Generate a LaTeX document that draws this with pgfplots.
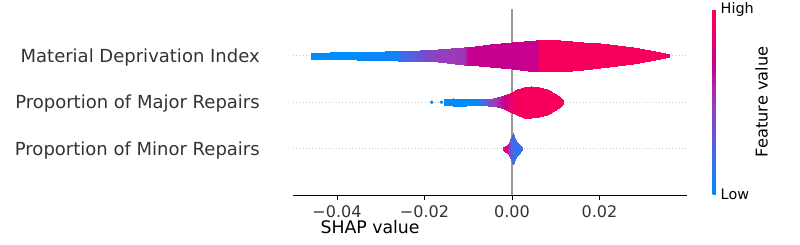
\documentclass[border=0pt]{standalone}
\usepackage{fontspec}
\setmainfont{DejaVu Sans}
\usepackage{pgfplots}
\pgfplotsset{compat=1.18}
\definecolor{txt}{HTML}{333333}
\definecolor{zeroline}{HTML}{999999}
\definecolor{gridc}{HTML}{CCCCCC}
\definecolor{shapblue}{RGB}{0,139,250}
\begin{document}
\begin{tikzpicture}
\path[use as bounding box] (-292.7pt,-48.7pt) rectangle (507.3pt,195.3pt);
\begin{axis}[
  at={(0pt,0pt)}, anchor=south west,
  scale only axis, width=394.6pt, height=186.1pt,
  xmin=-0.05013, xmax=0.04007, ymin=-1, ymax=3,
  axis lines*=left,
  y axis line style={draw=none},
  x axis line style={line width=1pt, black},
  xtick={-0.04,-0.02,0,0.02},
  xticklabels={−0.04,−0.02,0.00,0.02},
  scaled x ticks=false,
  ytick={0,1,2},
  yticklabels={Proportion of Minor Repairs, Proportion of Major Repairs, Material Deprivation Index},
  ytick style={draw=none},
  xtick style={black, line width=0.9pt},
  tick align=outside, major tick length=4.8pt,
  xticklabel style={font=\fontsize{16}{16}\selectfont, text=txt, anchor=base, inner sep=0pt, yshift=-17.6pt},
  yticklabel style={font=\fontsize{18}{18}\selectfont, text=txt, anchor=base east, inner sep=0pt, yshift=-6.5pt, xshift=-28pt},
  ymajorgrids, grid style={gridc, line width=0.6pt, dash pattern=on 0.8pt off 2.5pt},
  xlabel={SHAP value},
  xlabel style={at={(axis description cs:0.196,0)}, anchor=base, yshift=-38pt, font=\fontsize{17.3}{17.3}\selectfont, text=black},
  colormap={shap}{rgb255(0cm)=(0,139,250); rgb255(2cm)=(60,110,235); rgb255(3.5cm)=(112,80,208); rgb255(5cm)=(154,60,184); rgb255(6cm)=(180,30,165); rgb255(7cm)=(198,0,142); rgb255(8.5cm)=(230,0,115); rgb255(10cm)=(255,0,82)},
  point meta min=0, point meta max=1,
  colorbar,
  colorbar style={
    at={(parent axis.south east)}, anchor=south west, xshift=16.7pt, yshift=1pt,
    scale only axis, width=3pt, height=185pt,
    axis line style={draw=none},
    ytick={0,1}, yticklabels={Low,High},
    ytick style={draw=none},
    yticklabel style={font=\fontsize{14.4}{14.4}\selectfont, anchor=west, inner sep=0pt, xshift=5pt, text=black},
    ylabel={Feature value},
    every axis y label/.style={at={(axis description cs:1,0.5)}, rotate=90, anchor=center, yshift=-46pt, font=\fontsize{16.2}{16.2}\selectfont},
  },
]
\addplot[zeroline, line width=1.3pt, forget plot] coordinates {(0,-1) (0,3)};
\addplot[only marks, mark=*, mark size=1.6pt, shapblue, forget plot] coordinates {(-0.01835,1) (-0.01610,1)};

% Material Deprivation Index (row 2): upper edge then lower edge
\addplot[surf, shader=interp, mesh/rows=2, point meta=explicit, forget plot] table[x=x, y=y, meta=c] {
x y c
-0.04594 2.065 0
-0.04160 2.071 0
-0.03543 2.082 0
-0.02903 2.095 0.05
-0.02606 2.106 0.06
-0.02560 2.108 0.18
-0.02103 2.120 0.33
-0.01691 2.141 0.48
-0.01097 2.190 0.52
-0.01006 2.198 0.70
-0.00503 2.252 0.70
0.00000 2.295 0.70
0.00549 2.344 0.71
0.00640 2.344 0.95
0.01097 2.340 0.95
0.01623 2.301 0.95
0.02011 2.265 0.95
0.02400 2.226 0.95
0.02766 2.183 0.95
0.03154 2.118 0.95
0.03611 2.032 0.95
-0.04594 1.935 0
-0.04160 1.929 0
-0.03543 1.918 0
-0.02903 1.905 0.05
-0.02606 1.894 0.06
-0.02560 1.892 0.18
-0.02103 1.880 0.33
-0.01691 1.859 0.48
-0.01097 1.810 0.52
-0.01006 1.802 0.70
-0.00503 1.748 0.70
0.00000 1.705 0.70
0.00549 1.656 0.71
0.00640 1.656 0.95
0.01097 1.660 0.95
0.01623 1.699 0.95
0.02011 1.735 0.95
0.02400 1.774 0.95
0.02766 1.817 0.95
0.03154 1.882 0.95
0.03611 1.968 0.95
};

% Proportion of Major Repairs (row 1)
\addplot[surf, shader=interp, mesh/rows=2, point meta=explicit, forget plot] table[x=x, y=y, meta=c] {
x y c
-0.01554 1.065 0
-0.01349 1.082 0
-0.01051 1.073 0
-0.00800 1.067 0.02
-0.00549 1.077 0.35
-0.00343 1.103 0.55
-0.00183 1.151 0.70
-0.00046 1.209 0.85
0.00114 1.280 0.95
0.00274 1.329 0.95
0.00434 1.344 0.95
0.00617 1.323 0.95
0.00800 1.280 0.95
0.00960 1.194 0.95
0.01097 1.108 0.95
0.01177 1.043 0.95
-0.01554 0.935 0
-0.01349 0.918 0
-0.01051 0.927 0
-0.00800 0.933 0.02
-0.00549 0.923 0.35
-0.00343 0.897 0.55
-0.00183 0.849 0.70
-0.00046 0.791 0.85
0.00114 0.720 0.95
0.00274 0.671 0.95
0.00434 0.656 0.95
0.00617 0.677 0.95
0.00800 0.720 0.95
0.00960 0.806 0.95
0.01097 0.892 0.95
0.01177 0.957 0.95
};

% Proportion of Minor Repairs (row 0)
\addplot[surf, shader=interp, mesh/rows=2, point meta=explicit, forget plot] table[x=x, y=y, meta=c] {
x y c
-0.00206 0.032 0.95
-0.00149 0.065 0.90
-0.00091 0.108 0.60
-0.00046 0.194 0.35
-0.00011 0.290 0.25
0.00016 0.340 0.22
0.00046 0.269 0.20
0.00091 0.172 0.18
0.00149 0.108 0.18
0.00206 0.054 0.18
0.00245 0.017 0.18
-0.00206 -0.032 0.95
-0.00149 -0.065 0.90
-0.00091 -0.108 0.60
-0.00046 -0.194 0.35
-0.00011 -0.290 0.25
0.00016 -0.340 0.22
0.00046 -0.269 0.20
0.00091 -0.172 0.18
0.00149 -0.108 0.18
0.00206 -0.054 0.18
0.00245 -0.017 0.18
};
\end{axis}
\end{tikzpicture}
\end{document}
